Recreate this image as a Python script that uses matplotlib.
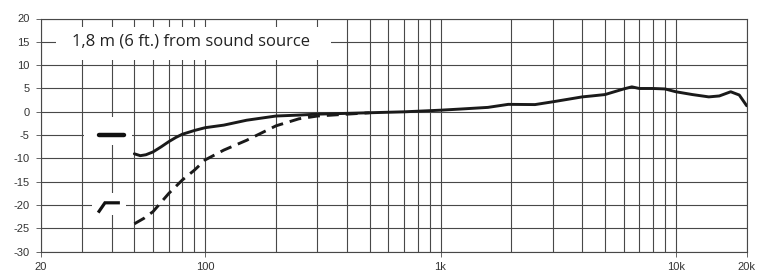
import matplotlib
matplotlib.use("Agg")
import matplotlib.pyplot as plt
from matplotlib.patches import Rectangle
from matplotlib.ticker import FixedLocator, NullFormatter

plt.rcParams['lines.scale_dashes'] = False

# ---- data ----
freq_solid = [50, 53, 56, 60, 65, 70, 75, 80, 90, 100, 120, 150, 200, 250, 300,
              500, 700, 1000, 1220, 1590, 1940, 2520, 3000, 3490, 4000, 4390,
              5000, 6000, 6500, 7000, 8000, 9000, 10000, 11750, 13800, 15300,
              17100, 18600, 20000]
db_solid = [-9.0, -9.4, -9.2, -8.6, -7.5, -6.4, -5.5, -4.8, -4.0, -3.4, -2.85,
            -1.8, -0.9, -0.7, -0.5, -0.2, 0.0, 0.35, 0.6, 0.95, 1.6, 1.55, 2.15,
            2.7, 3.2, 3.4, 3.7, 4.9, 5.35, 5.0, 5.0, 4.9, 4.3, 3.7, 3.2, 3.4,
            4.3, 3.6, 1.3]

freq_dashed = [50, 55, 60, 70, 80, 90, 100, 120, 150, 200, 250, 300, 400, 500]
db_dashed = [-24.0, -22.8, -21.4, -17.5, -14.6, -12.5, -10.3, -8.2, -6.1, -3.0,
             -1.5, -0.9, -0.5, -0.2]

x_tick_vals = [20, 100, 1000, 10000, 20000]
x_tick_labels = ["20", "100", "1k", "10k", "20k"]
x_grid_vals = [30, 40, 50, 60, 70, 80, 90, 200, 300, 400, 500, 600, 700, 800,
               900, 2000, 3000, 4000, 5000, 6000, 7000, 8000, 9000]
y_tick_vals = [-30, -25, -20, -15, -10, -5, 0, 5, 10, 15, 20]
y_tick_labels = ["-30", "-25", "-20", "-15", "-10", "-5", "0", "5", "10", "15", "20"]

caption = "1,8 m (6 ft.) from sound source"
caption_pos = (87, 15)
caption_box_x = [23.2, 343]
caption_box_y = [11.1, 18.1]

# legend-like symbols
sym_solid_x = [35.4, 45.3]
sym_solid_y = [-5, -5]
sym_solid_box_x = [30.5, 49]
sym_solid_box_y = [-7.1, -1.1]
sym_dash_x = [35.1, 37.5, 43.4]
sym_dash_y = [-21.6, -19.5, -19.5]
sym_dash_box_x = [33.0, 46.1]
sym_dash_box_y = [-22.1, -17.4]

# ---- figure ----
W, H = 764, 273
fig = plt.figure(figsize=(W / 100, H / 100), dpi=100)
ax = fig.add_axes([40.7 / W, (H - 251.8) / H, 706 / W, 233.3 / H])
ax.set_xscale('log')
ax.set_xlim(20, 20000)
ax.set_ylim(-30, 20)
ax.set_axisbelow(True)

gcol = '#484848'
ax.xaxis.set_major_locator(FixedLocator(x_tick_vals))
ax.set_xticklabels(x_tick_labels)
ax.xaxis.set_minor_locator(FixedLocator(x_grid_vals))
ax.xaxis.set_minor_formatter(NullFormatter())
ax.set_yticks(y_tick_vals)
ax.set_yticklabels(y_tick_labels)
ax.grid(True, which='both', color=gcol, linewidth=0.8)
ax.tick_params(axis='both', which='major', direction='out', length=3.5,
               width=0.7, color='#666666', labelsize=8, labelcolor='#333333')
ax.tick_params(axis='x', which='major', pad=3.5)
ax.tick_params(axis='y', which='major', pad=4.5)
ax.tick_params(axis='x', which='minor', length=0)
for lab in ax.get_xticklabels() + ax.get_yticklabels():
    lab.set_family('Liberation Sans')
for s in ax.spines.values():
    s.set_color(gcol)
    s.set_linewidth(0.8)

# white boxes
def wbox(xs, ys):
    ax.add_patch(Rectangle((xs[0], ys[0]), xs[1] - xs[0], ys[1] - ys[0],
                           facecolor='white', edgecolor='none', zorder=1))

wbox(caption_box_x, caption_box_y)
wbox(sym_solid_box_x, sym_solid_box_y)
wbox(sym_dash_box_x, sym_dash_box_y)

ax.text(caption_pos[0], caption_pos[1], caption, family='Open Sans',
        fontsize=12, color='#222222', ha='center', va='center', zorder=3)

# curves
ax.plot(freq_dashed, db_dashed, color='#1a1a1a', linewidth=2.1,
        dashes=(8.6, 5.0), zorder=3)
ax.plot(freq_solid, db_solid, color='#1a1a1a', linewidth=2.1,
        solid_capstyle='round', solid_joinstyle='round', zorder=4)

# symbols
ax.plot(sym_solid_x, sym_solid_y, color='#111111', linewidth=3.2,
        solid_capstyle='round', zorder=4)
ax.plot(sym_dash_x, sym_dash_y, color='#111111', linewidth=2.3,
        solid_capstyle='butt', solid_joinstyle='miter', zorder=4)

fig.savefig('out.png', dpi=100)
